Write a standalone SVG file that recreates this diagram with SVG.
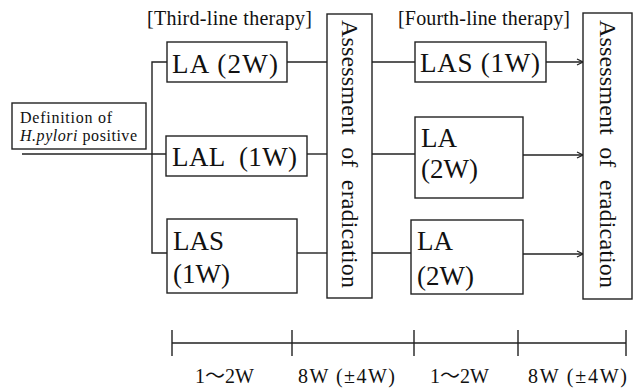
<svg xmlns="http://www.w3.org/2000/svg" width="637" height="389" viewBox="0 0 637 389">
<style>
.box{fill:#fff;stroke:#222;stroke-width:1.4}
.ln{fill:none;stroke:#222;stroke-width:1.4}
.t{font-family:"Liberation Serif","Times New Roman",serif;fill:#111}
.big{font-size:27px}
.ttl{font-size:20px}
.lab{font-size:20px}
.def{font-size:16px}
.vert{font-size:24px;white-space:pre}
</style>
<defs>
<marker id="arr" markerWidth="8" markerHeight="8" refX="7" refY="4" orient="auto" markerUnits="userSpaceOnUse">
<path d="M1,1 L7,4 L1,7" fill="none" stroke="#222" stroke-width="1.2"/>
</marker>
</defs>
<rect width="637" height="389" fill="#fff"/>
<text class="t ttl" x="147" y="25" textLength="165">[Third-line therapy]</text>
<text class="t ttl" x="398" y="25" textLength="172">[Fourth-line therapy]</text>
<g id="connectors">
<path class="ln" d="M22,154 H167"/>
<path class="ln" d="M167,62 H152 V253 H167"/>
<path class="ln" d="M287,62 H327"/>
<path class="ln" d="M307,154 H327"/>
<path class="ln" d="M297,253 H327"/>
<path class="ln" d="M372,62 H415"/>
<path class="ln" d="M372,154 H415"/>
<path class="ln" d="M372,253 H411"/>
<path class="ln" d="M546,62 H583" marker-end="url(#arr)"/>
<path class="ln" d="M523,155 H583" marker-end="url(#arr)"/>
<path class="ln" d="M523,254 H583" marker-end="url(#arr)"/>
</g>
<g id="def">
<rect class="box" x="12" y="103" width="134" height="46"/>
<text class="t def" x="20" y="123" textLength="92">Definition of</text>
<text class="t def" x="20" y="141" textLength="117"><tspan font-style="italic">H.pylori</tspan> positive</text>
</g>
<g id="la2w">
<rect class="box" x="167" y="42" width="120" height="40"/>
<text class="t big" x="172" y="73" textLength="106">LA (2W)</text>
</g>
<g id="lal1w">
<rect class="box" x="166" y="136" width="141" height="40"/>
<text class="t big" x="172" y="166" style="white-space:pre" textLength="125">LAL  (1W)</text>
</g>
<g id="las1w">
<rect class="box" x="167" y="219" width="130" height="74"/>
<text class="t big" x="173" y="250">LAS</text>
<text class="t big" x="173" y="283">(1W)</text>
</g>
<g id="assess1">
<rect class="box" x="327" y="14" width="45" height="284"/>
<text class="t vert" transform="translate(350,154) rotate(90)" x="0" y="0" text-anchor="middle" dominant-baseline="central" textLength="268">Assessment  of  eradication</text>
</g>
<g id="las1w-4">
<rect class="box" x="415" y="42" width="131" height="40"/>
<text class="t big" x="420" y="72" textLength="120">LAS (1W)</text>
</g>
<g id="la2w-4a">
<rect class="box" x="415" y="117" width="108" height="81"/>
<text class="t big" x="421" y="147">LA</text>
<text class="t big" x="421" y="178">(2W)</text>
</g>
<g id="la2w-4b">
<rect class="box" x="411" y="220" width="112" height="74"/>
<text class="t big" x="417" y="250">LA</text>
<text class="t big" x="417" y="285">(2W)</text>
</g>
<g id="assess2">
<rect class="box" x="583" y="13" width="49" height="286"/>
<text class="t vert" transform="translate(608,154) rotate(90)" x="0" y="0" text-anchor="middle" dominant-baseline="central" textLength="268">Assessment  of  eradication</text>
</g>
<g id="timeline">
<path class="ln" d="M172,343 H626 M172,330 V356 M292,330 V356 M414,330 V356 M518,330 V356 M626,330 V356"/>
<text class="t lab" x="195" y="383">1<tspan font-family="'Noto Sans CJK JP',sans-serif">～</tspan>2W</text>
<text class="t lab" x="298" y="383" textLength="97">8W (±4W)</text>
<text class="t lab" x="430" y="383">1<tspan font-family="'Noto Sans CJK JP',sans-serif">～</tspan>2W</text>
<text class="t lab" x="528" y="383" textLength="99">8W (±4W)</text>
</g>
</svg>
